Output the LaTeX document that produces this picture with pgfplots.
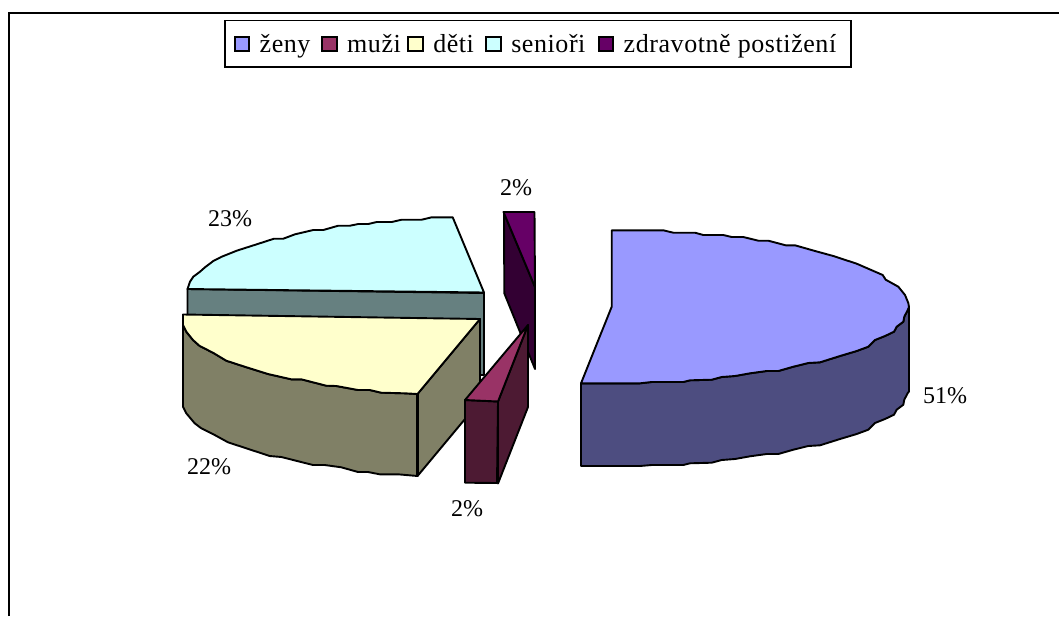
\documentclass[border=0pt]{standalone}
\usepackage{pgfplots}
\pgfplotsset{compat=1.18}
\usepackage{fontspec}
\setmainfont{Liberation Serif}
\newfontfamily\legfont[LetterSpace=2.2]{Liberation Serif}
\definecolor{czeny}{HTML}{9999FF}
\definecolor{cmuzi}{HTML}{993366}
\definecolor{cdeti}{HTML}{FFFFCC}
\definecolor{cseni}{HTML}{CCFFFF}
\definecolor{czdr}{HTML}{660066}
\definecolor{wzeny}{HTML}{4D4D80}
\definecolor{wmuzi}{HTML}{4D1A33}
\definecolor{wdeti}{HTML}{808066}
\definecolor{wseni}{HTML}{668080}
\definecolor{wzdr}{HTML}{330033}
\pgfplotsset{
  slice/.style={draw=black,line width=1.9pt,line join=round,fill=#1,forget plot,mark=none},
  swatch/.style={legend image code/.code={\draw[draw=black,line width=1.9pt,fill=#1] (0pt,-7.2pt) rectangle (14.4pt,7.2pt);}},
}
\begin{document}
\begin{tikzpicture}
\begin{axis}[
  width=1059pt,height=616pt,scale only axis,
  xmin=0,xmax=1059,ymin=0,ymax=616,y dir=reverse,
  axis line style={draw=none},ticks=none,
  legend columns=5,
  legend cell align=left,
  legend style={at={(axis cs:224.3,19.5)},anchor=north west,draw=black,line width=1.9pt,
    inner xsep=8.5pt,inner ysep=11.7pt,
    font=\fontsize{26}{29}\selectfont\legfont,
    /tikz/every even column/.append style={column sep=0pt}},
]
\addlegendimage{swatch=czeny}\addlegendentry{\makebox[67.2pt][l]{\hspace*{7.6pt}ženy}}
\addlegendimage{swatch=cmuzi}\addlegendentry{\makebox[65.8pt][l]{\hspace*{7.6pt}muži}}
\addlegendimage{swatch=cdeti}\addlegendentry{\makebox[57.7pt][l]{\hspace*{7.6pt}děti}}
\addlegendimage{swatch=cseni}\addlegendentry{\makebox[92.1pt][l]{\hspace*{7.6pt}senioři}}
\addlegendimage{swatch=czdr}\addlegendentry{\makebox[224pt][l]{\hspace*{7.6pt}zdravotně postižení}}

% outer frame
\addplot[draw=black,line width=2pt,forget plot,mark=none] coordinates {(8.5,616)(8.5,13.4)(1059,13.4)};

% senioři
\addplot[slice=wseni] coordinates {(187.5,289)(484,293)(484,375)(187.5,375)} -- cycle;
\addplot[slice=cseni] coordinates {(187.5,289)(190,281.7)(193.3,276.7)(200,271.7)(205,267.3)(213.3,261)(221.7,256.7)(236.7,250.7)(256.7,244.3)(274,238.7)(283.3,238.7)(295,234.3)(313.3,230)(323.3,230)(338.3,225.7)(350,225.7)(358.3,224)(368.3,224)(376.7,222)(391.7,222)(401.7,219.7)(421.7,219.7)(431.7,217.3)(452.7,217.3)(484,292.5)} -- cycle;

% děti
\addplot[slice=wdeti] coordinates {(183,325)(186.3,331.7)(193,340)(199.7,346)(213,352.7)(226.3,360.7)(244.7,366.7)(268,374)(291.3,379.3)(301.3,379.3)(326.3,385.7)(336.3,386)(358,390)(369.7,390)(381.3,392.7)(404.7,393.3)(417.5,394)(417.5,476)(398,474.3)(379.7,474.3)(368,472)(358,472)(341.3,467.3)(324.7,465)(313,465)(281.3,457)(269.7,456)(246.3,448.3)(228,442.3)(214.7,435)(201.3,428.3)(194.7,423.3)(186.3,413.3)(183,406.7)} -- cycle;
\addplot[slice=wdeti] coordinates {(417.5,394)(480,319)(480,401)(417.5,476)} -- cycle;
\addplot[slice=cdeti] coordinates {(183,314.5)(480,319)(417.5,394)(404.7,393.3)(381.3,392.7)(369.7,390)(358,390)(336.3,386)(326.3,385.7)(301.3,379.3)(291.3,379.3)(268,374)(244.7,366.7)(226.3,360.7)(213,352.7)(199.7,346)(193,340)(186.3,331.7)(183,325)} -- cycle;
\addplot[draw=black,line width=3pt,forget plot,mark=none] coordinates {(417.5,394)(417.5,476)};

% zdravotně postižení
\addplot[slice=wzdr] coordinates {(504,213)(535,287)(535,369)(504.3,293.3)} -- cycle;
\addplot[slice=czdr] coordinates {(503.5,212)(534.5,212)(535,287)} -- cycle;

% muži
\addplot[slice=wmuzi] coordinates {(498,401.5)(528,325)(528,407)(498,483.5)} -- cycle;
\addplot[slice=wmuzi] coordinates {(465,400)(498,401.5)(497,483)(465,482.7)} -- cycle;
\addplot[slice=cmuzi] coordinates {(528,325)(465,400)(498,401.5)} -- cycle;

% ženy
\addplot[slice=wzeny] coordinates {(909,307)(907.7,310)(904.3,316.7)(903.3,321.7)(896.7,326.7)(894,331.7)(885,336)(875,340)(868.3,346.7)(856.7,351)(840,356)(820,362.3)(808.3,363)(793.3,366.7)(778.3,371)(766.7,371)(750,373.3)(735,376)(721.7,377)(711.7,379.7)(690,380.3)(683.3,382)(651.7,382)(640,383.3)(581,383.3)(581,466)(640,466)(651.7,465)(683.3,465)(690,463.3)(711.7,462.7)(721.7,460)(735,459)(750,456.3)(766.7,454)(778.3,454)(793.3,449.7)(808.3,446)(820,445.3)(840,439)(856.7,434)(868.3,429.7)(875,423)(885,419)(894,414.7)(896.7,409.7)(903.3,404.7)(904.3,399.7)(907.7,393)(909,391.5)} -- cycle;
\addplot[slice=czeny] coordinates {(611.7,230.3)(663.3,230.3)(673.3,232.7)(695,232.7)(703.3,235)(723.3,235)(731.7,237)(743.3,237)(758.3,240.7)(768.3,240.7)(785.7,245.3)(795,245.3)(815,251)(833.3,256)(856.7,263.7)(882.7,275)(885.7,279.7)(898.3,286.7)(905,295)(908.3,303)(909,307)(907.7,310)(904.3,316.7)(903.3,321.7)(896.7,326.7)(894,331.7)(885,336)(875,340)(868.3,346.7)(856.7,351)(840,356)(820,362.3)(808.3,363)(793.3,366.7)(778.3,371)(766.7,371)(750,373.3)(735,376)(721.7,377)(711.7,379.7)(690,380.3)(683.3,382)(651.7,382)(640,383.3)(581,383.3)(611.7,306.7)} -- cycle;

% data labels
\node[font=\fontsize{24}{27}\selectfont] at (axis cs:945,396) {51\%};
\node[font=\fontsize{24}{27}\selectfont] at (axis cs:516,188) {2\%};
\node[font=\fontsize{24}{27}\selectfont] at (axis cs:230,219) {23\%};
\node[font=\fontsize{24}{27}\selectfont] at (axis cs:209,467) {22\%};
\node[font=\fontsize{24}{27}\selectfont] at (axis cs:467,509) {2\%};
\end{axis}
\end{tikzpicture}
\end{document}
